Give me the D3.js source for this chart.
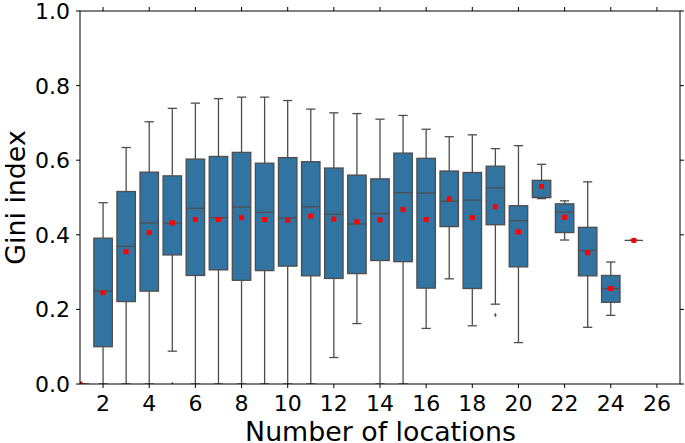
<!DOCTYPE html>
<html><head><meta charset="utf-8">
<script src="https://cdn.jsdelivr.net/npm/d3@7"></script>
<style>body{margin:0;background:#fff}svg{display:block}text{font-family:"DejaVu Sans",sans-serif;fill:#000}</style>
</head><body><svg id="c" width="685" height="443"></svg>
<script>
const positions = [1,2,3,4,5,6,7,8,9,10,11,12,13,14,15,16,17,18,19,20,21,22,23,24,25];
const whiskerLow = [0,0,0,0,0.088,0,0,0,0,0,0,0.071,0.162,0,0,0.149,0.282,0.156,0.214,0.111,0.497,0.386,0.152,0.184,0.385];
const q1 = [0,0.100,0.221,0.249,0.346,0.291,0.306,0.278,0.304,0.316,0.290,0.283,0.296,0.331,0.328,0.257,0.422,0.256,0.427,0.314,0.500,0.406,0.290,0.219,0.385];
const medians = [0,0.249,0.369,0.432,0.431,0.471,0.446,0.474,0.460,0.445,0.475,0.455,0.429,0.457,0.513,0.512,0.490,0.493,0.526,0.438,0.500,0.461,0.358,0.256,0.385];
const q3 = [0,0.391,0.516,0.568,0.558,0.603,0.610,0.621,0.592,0.607,0.596,0.579,0.560,0.550,0.619,0.605,0.571,0.567,0.584,0.478,0.546,0.483,0.420,0.291,0.385];
const whiskerHigh = [0,0.486,0.634,0.703,0.739,0.753,0.765,0.769,0.769,0.760,0.737,0.727,0.725,0.710,0.720,0.683,0.663,0.668,0.631,0.639,0.589,0.491,0.542,0.327,0.385];
const means = [0,0.245,0.355,0.406,0.432,0.441,0.441,0.446,0.441,0.439,0.450,0.442,0.435,0.440,0.468,0.441,0.496,0.446,0.475,0.408,0.530,0.447,0.352,0.256,0.385];
const outlierPos = [5,19];
const outlierVal = [0.0,0.185];
const xTicks = [2,4,6,8,10,12,14,16,18,20,22,24,26];
const yTicks = [0,0.2,0.4,0.6,0.8,1.0];

const svg = d3.select("#c");
const L=80, R=680, T=11, B=384;
const x = d3.scaleLinear().domain([1,27]).range([L,R]);
const y = d3.scaleLinear().domain([0,1]).range([B,T]);
const bw = (x(1.8)-x(1));
const edge = "#4d4d4d";

svg.append("defs").append("clipPath").attr("id","clip").append("rect")
  .attr("x",L).attr("y",T-3).attr("width",R-L).attr("height",B-T+3);
const g = svg.append("g").attr("clip-path","url(#clip)");

positions.forEach((p,i)=>{
  const cx = x(p);
  const gg = g.append("g");
  gg.append("line").attr("x1",cx).attr("x2",cx).attr("y1",y(q3[i])).attr("y2",y(whiskerHigh[i])).attr("stroke",edge).attr("stroke-width",1.3);
  gg.append("line").attr("x1",cx).attr("x2",cx).attr("y1",y(q1[i])).attr("y2",y(whiskerLow[i])).attr("stroke",edge).attr("stroke-width",1.3);
  gg.append("line").attr("x1",cx-bw/4).attr("x2",cx+bw/4).attr("y1",y(whiskerHigh[i])).attr("y2",y(whiskerHigh[i])).attr("stroke",edge).attr("stroke-width",1.3);
  gg.append("line").attr("x1",cx-bw/4).attr("x2",cx+bw/4).attr("y1",y(whiskerLow[i])).attr("y2",y(whiskerLow[i])).attr("stroke",edge).attr("stroke-width",1.3);
  gg.append("rect").attr("x",cx-bw/2).attr("width",bw).attr("y",y(q3[i])).attr("height",Math.max(0,y(q1[i])-y(q3[i])))
    .attr("fill","#3274a1").attr("stroke",edge).attr("stroke-width",1.3);
  gg.append("line").attr("x1",cx-bw/2).attr("x2",cx+bw/2).attr("y1",y(medians[i])).attr("y2",y(medians[i])).attr("stroke",edge).attr("stroke-width",1.3);
  gg.append("rect").attr("x",cx-2.5).attr("y",y(means[i])-2.5).attr("width",5).attr("height",5).attr("fill","#ff0000");
});
outlierPos.forEach((p,i)=>{
  g.append("path").attr("d",d3.symbol(d3.symbolDiamond,6)()).attr("transform",`translate(${x(p)},${y(outlierVal[i])})`).attr("fill",edge);
});

svg.append("rect").attr("x",L).attr("y",T).attr("width",R-L).attr("height",B-T).attr("fill","none").attr("stroke","#000").attr("stroke-width",1);
const tk = 4;
xTicks.forEach(t=>{
  svg.append("line").attr("x1",x(t)).attr("x2",x(t)).attr("y1",B).attr("y2",B+tk).attr("stroke","#000");
  svg.append("line").attr("x1",x(t)).attr("x2",x(t)).attr("y1",T).attr("y2",T-tk).attr("stroke","#000");
  svg.append("text").attr("x",x(t)).attr("y",411).attr("text-anchor","middle").attr("font-size",22).text(t);
});
yTicks.forEach(t=>{
  svg.append("line").attr("x1",L).attr("x2",L-tk).attr("y1",y(t)).attr("y2",y(t)).attr("stroke","#000");
  svg.append("line").attr("x1",R).attr("x2",R+tk).attr("y1",y(t)).attr("y2",y(t)).attr("stroke","#000");
  svg.append("text").attr("x",L-10).attr("y",y(t)).attr("dy","0.36em").attr("text-anchor","end").attr("font-size",22).text(t.toFixed(1));
});
svg.append("text").attr("x",380.5).attr("y",441).attr("text-anchor","middle").attr("font-size",26.8).text("Number of locations");
svg.append("text").attr("transform",`translate(25,${(T+B)/2}) rotate(-90)`).attr("text-anchor","middle").attr("font-size",26.8).text("Gini index");
</script></body></html>
